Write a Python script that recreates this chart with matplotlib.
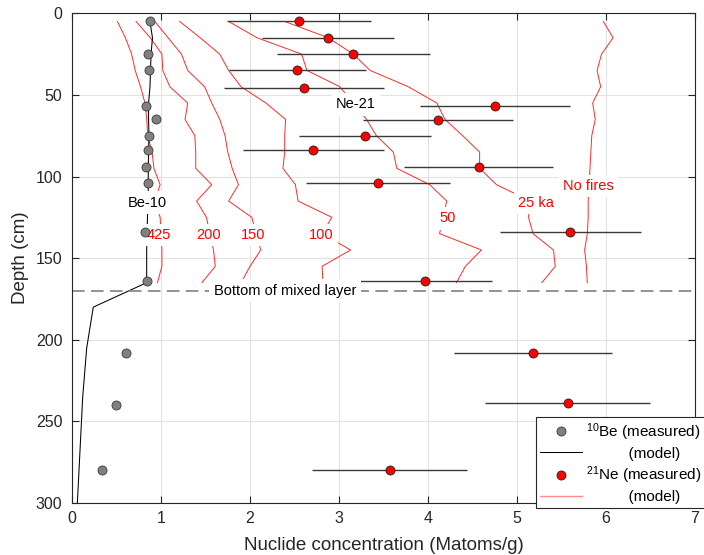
import matplotlib
matplotlib.use('Agg')
import matplotlib.pyplot as plt
from matplotlib.lines import Line2D

plt.rcParams['font.family'] = ['Liberation Sans', 'DejaVu Sans']
plt.rcParams['mathtext.fontset'] = 'custom'
plt.rcParams['mathtext.rm'] = 'Liberation Sans'
plt.rcParams['mathtext.default'] = 'regular'

# ---------------- data ----------------
# 10Be measured
be_depth = [5, 25, 35, 57, 65, 75, 84, 94, 104, 134, 164, 208, 240, 280]
be_conc = [0.88, 0.85, 0.87, 0.83, 0.94, 0.87, 0.85, 0.83, 0.85, 0.82, 0.84, 0.61, 0.49, 0.34]

# 10Be model
be_model_depth = [5, 15, 25, 35, 45, 55, 65, 75, 85, 95, 105, 115, 125, 135, 145, 155, 165,
                  180, 205, 235, 300]
be_model = [0.876, 0.904, 0.888, 0.882, 0.876, 0.860, 0.860, 0.865, 0.860, 0.857, 0.857,
            0.854, 0.848, 0.843, 0.839, 0.839, 0.839, 0.239, 0.165, 0.120, 0.060]

# 21Ne measured
ne_depth = [5, 15, 25, 35, 46, 57, 65.5, 75, 84, 94, 104, 134, 164, 208, 239, 280]
ne_conc = [2.55, 2.88, 3.16, 2.53, 2.61, 4.75, 4.11, 3.29, 2.71, 4.57, 3.44, 5.60, 3.97,
           5.18, 5.57, 3.57]
ne_err = [0.81, 0.74, 0.86, 0.77, 0.90, 0.84, 0.84, 0.74, 0.79, 0.84, 0.81, 0.79, 0.75,
          0.89, 0.93, 0.87]

# 21Ne model curves (mixed layer), one per fire interval
model_depth = [5, 15, 25, 35, 45, 55, 65, 75, 85, 95, 105, 115, 125, 135, 145, 155, 165]
ne_model_425 = [0.51, 0.60, 0.67, 0.71, 0.77, 0.82, 0.84, 0.85, 0.90, 0.92, 0.99, 0.93, 0.99,
                1.00, 1.01, 1.01, 0.96]
ne_model_200 = [0.72, 0.88, 1.01, 1.02, 1.10, 1.30, 1.27, 1.38, 1.39, 1.39, 1.57, 1.40, 1.51,
                1.55, 1.59, 1.61, 1.46]
ne_model_150 = [0.93, 1.08, 1.23, 1.30, 1.49, 1.57, 1.66, 1.72, 1.75, 1.80, 1.87, 1.76, 2.02,
                2.07, 2.12, 2.00, 1.90]
ne_model_100 = [1.21, 1.44, 1.66, 1.76, 1.90, 2.18, 2.40, 2.39, 2.39, 2.37, 2.51, 2.54, 2.92,
                2.81, 3.13, 2.81, 2.82]
ne_model_50 = [1.76, 2.08, 2.58, 2.64, 3.01, 3.16, 3.31, 3.42, 3.61, 3.65, 4.02, 4.21, 4.17,
               4.13, 4.60, 4.42, 4.32]
ne_model_25 = [2.39, 2.88, 3.16, 3.35, 3.78, 4.10, 4.19, 4.39, 4.58, 4.58, 4.77, 5.15, 5.13,
               5.18, 5.41, 5.43, 5.28]
ne_model_nofire = [5.97, 6.08, 5.95, 5.90, 5.94, 5.85, 5.88, 5.84, 5.83, 5.82, 5.81, 5.80, 5.80,
                   5.79, 5.76, 5.78, 5.79]

model_curves = [ne_model_425, ne_model_200, ne_model_150, ne_model_100,
                ne_model_50, ne_model_25, ne_model_nofire]
curve_labels = ['425', '200', '150', '100', '50', '25 ka', 'No fires']
curve_label_x = [0.978, 1.532, 2.031, 2.796, 4.219, 5.217, 5.801]
curve_label_y = [135.8, 135.8, 135.8, 135.8, 125.5, 116.0, 105.8]

mixed_layer_depth = 170

# ---------------- figure ----------------
fig = plt.figure(figsize=(7.04, 5.55), dpi=100)
ax = fig.add_axes([0.1023, 0.0937, 0.8849, 0.8823])

dark = '#262626'
red_line = '#ff2a2a'

for vals in model_curves:
    ax.plot(vals, model_depth, color=red_line, lw=0.7, zorder=2)

ax.plot(be_model, be_model_depth, color='k', lw=0.75, zorder=2)

ax.axhline(mixed_layer_depth, color='#8a8a8a', lw=1.3, ls=(0, (7, 3.5)), zorder=2)

ax.errorbar(ne_conc, ne_depth, xerr=ne_err, fmt='none', ecolor='#3a3a3a',
            elinewidth=1.0, capsize=0, zorder=2.5)

box = dict(facecolor='white', edgecolor='none', boxstyle='square,pad=0.3')
fs_in = 10.5
for lab, lx, ly in zip(curve_labels, curve_label_x, curve_label_y):
    ax.text(lx, ly, lab, color='#ff0000', fontsize=fs_in, ha='center', va='center',
            bbox=box, zorder=3)
ax.text(0.848, 116.0, 'Be-10', color='k', fontsize=fs_in, ha='center', va='center',
        bbox=box, zorder=3)
ax.text(3.189, 55.7, 'Ne-21', color='k', fontsize=fs_in, ha='center', va='center',
        bbox=box, zorder=3)
ax.text(2.393, mixed_layer_depth, 'Bottom of mixed layer', color='k', fontsize=fs_in,
        ha='center', va='center', bbox=box, zorder=3)

ax.plot(be_conc, be_depth, 'o', ls='none', mfc='#808080', mec='#3a3a3a', ms=6.5, mew=0.6,
        zorder=4)
ax.plot(ne_conc, ne_depth, 'o', ls='none', mfc='#ff0000', mec='#202020', ms=6.5, mew=0.6,
        zorder=4)

ax.set_xlim(0, 7)
ax.set_ylim(300, 0)
ax.set_xticks(range(0, 8))
ax.set_yticks(range(0, 301, 50))
ax.grid(True, color='#e3e3e3', lw=0.8)
ax.set_axisbelow(True)
ax.tick_params(direction='in', top=True, right=True, length=5, width=0.8, color=dark,
               labelsize=11.5, labelcolor=dark)
ax.tick_params(axis='x', pad=6)
ax.tick_params(axis='y', pad=7)
for s in ax.spines.values():
    s.set_color(dark)
    s.set_linewidth(0.8)

ax.set_xlabel('Nuclide concentration (Matoms/g)', fontsize=13.5, color=dark, labelpad=8)
ax.set_ylabel('Depth (cm)', fontsize=13.5, color=dark, labelpad=5)

handles = [
    Line2D([], [], marker='o', ls='none', mfc='#808080', mec='#3a3a3a', ms=6.5, mew=0.6),
    Line2D([], [], color='k', lw=0.75),
    Line2D([], [], marker='o', ls='none', mfc='#ff0000', mec='#202020', ms=6.5, mew=0.6),
    Line2D([], [], color='#ff8c8c', lw=1.0),
]
labels = ['$^{10}$Be (measured)', ' ' * 10 + '(model)',
          '$^{21}$Ne (measured)', ' ' * 10 + '(model)']
leg = ax.legend(handles, labels, loc='lower right', bbox_to_anchor=(1.017, -0.011),
                borderaxespad=0, fontsize=11, frameon=True, fancybox=False,
                framealpha=1, edgecolor=dark, handlelength=2.7, handletextpad=0.3,
                labelspacing=0.26, borderpad=0.28, numpoints=1)
leg.get_frame().set_linewidth(0.8)
leg.set_zorder(5)

fig.savefig('out.png', dpi=100)
